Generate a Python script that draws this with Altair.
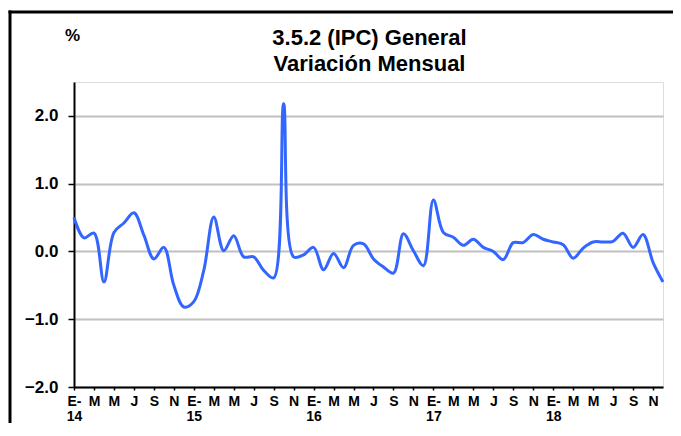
import altair as alt
import pandas as pd

# Monthly variation (%) of the general CPI, Jan 2014 - Dec 2018
values_2014 = [0.50, 0.20, 0.27, -0.45, 0.28, 0.42, 0.57, 0.24, -0.11, 0.06, -0.50, -0.82]
values_2015 = [-0.74, -0.28, 0.51, 0.01, 0.23, -0.08, -0.08, -0.28, -0.39, 2.18, -0.08, -0.05]
values_2016 = [0.06, -0.27, -0.03, -0.24, 0.09, 0.11, -0.11, -0.23, -0.32, 0.26, 0.01, -0.21]
values_2017 = [0.76, 0.28, 0.21, 0.09, 0.18, 0.06, 0.00, -0.12, 0.13, 0.13, 0.25, 0.18]
values_2018 = [0.14, 0.10, -0.10, 0.05, 0.14, 0.14, 0.15, 0.27, 0.06, 0.25, -0.16, -0.45]

years = ["14", "15", "16", "17", "18"]
month_abbr = ["E", "F", "M", "A", "M", "J", "J", "A", "S", "O", "N", "D"]
y_ticks = [-2, -1, 0, 1, 2]
title_line1 = "3.5.2 (IPC) General"
title_line2 = "Variación Mensual"

series = values_2014 + values_2015 + values_2016 + values_2017 + values_2018
df = pd.DataFrame({"i": list(range(len(series))), "v": series})

# tick labels every two months; January carries the year on a second line
tick_values = list(range(0, len(series), 2))
tick_labels = []
for t in tick_values:
    m = t % 12
    if m == 0:
        tick_labels.append('["E-","%s"]' % years[t // 12])
    else:
        tick_labels.append('"%s"' % month_abbr[m])
label_expr = "[" + ",".join(tick_labels) + "][datum.value/2]"

W, H = 589, 305
FONT = "Liberation Sans"

line = alt.Chart(df).mark_line(
    color="#3366FF", strokeWidth=3, interpolate="catmull-rom"
).encode(
    x=alt.X("i:Q",
            scale=alt.Scale(domain=[0, len(series) - 1], nice=False, zero=False),
            axis=alt.Axis(values=tick_values, labelExpr=label_expr, grid=False,
                          title=None, tickSize=3, tickColor="black", tickWidth=1.5,
                          domainColor="black", domainWidth=2,
                          labelFont=FONT, labelFontSize=14, labelFontWeight="bold",
                          labelColor="black", labelPadding=4, labelLineHeight=15,
                          labelAlign="center", labelBaseline="top",
                          labelOverlap=False, labelFlush=False)),
    y=alt.Y("v:Q",
            scale=alt.Scale(domain=[-2, 2.5], nice=False, zero=False),
            axis=alt.Axis(values=y_ticks, format=".1f", grid=True,
                          gridColor="#c0c0c0", gridWidth=2,
                          tickSize=6, tickColor="black", tickWidth=1.5,
                          domainColor="black", domainWidth=2,
                          labelFont=FONT, labelFontSize=17, labelFontWeight="bold",
                          labelColor="black", labelPadding=10,
                          title="%", titleAngle=0, titleX=-2, titleY=-47,
                          titleAlign="center", titleBaseline="middle",
                          titleFont=FONT, titleFontSize=17, titleFontWeight="bold",
                          titleColor="black")),
)

one = pd.DataFrame({"a": [0]})

top_edge = alt.Chart(one).mark_rule(color="black", strokeWidth=3).encode(
    x=alt.value(-65.5), x2=alt.value(W + 300), y=alt.value(-70)
)
left_edge = alt.Chart(one).mark_rule(color="black", strokeWidth=3).encode(
    x=alt.value(-64), y=alt.value(-71.5), y2=alt.value(H + 300)
)

t1 = alt.Chart(one).mark_text(
    font=FONT, fontSize=22, fontWeight="bold", color="black",
    align="center", baseline="alphabetic"
).encode(x=alt.value(W / 2 + 1), y=alt.value(-37), text=alt.value(title_line1))

t2 = alt.Chart(one).mark_text(
    font=FONT, fontSize=22, fontWeight="bold", color="black",
    align="center", baseline="alphabetic"
).encode(x=alt.value(W / 2 + 1), y=alt.value(-11), text=alt.value(title_line2))

chart = alt.layer(top_edge, left_edge, line, t1, t2).properties(
    width=W, height=H,
    padding={"left": 66, "top": 74, "right": 10, "bottom": 36},
    autosize=alt.AutoSizeParams(type="none"),
).configure_view(stroke="black", strokeWidth=2).configure(background="white")

chart.save("out.html", embed_options={"renderer": "svg", "actions": False})
